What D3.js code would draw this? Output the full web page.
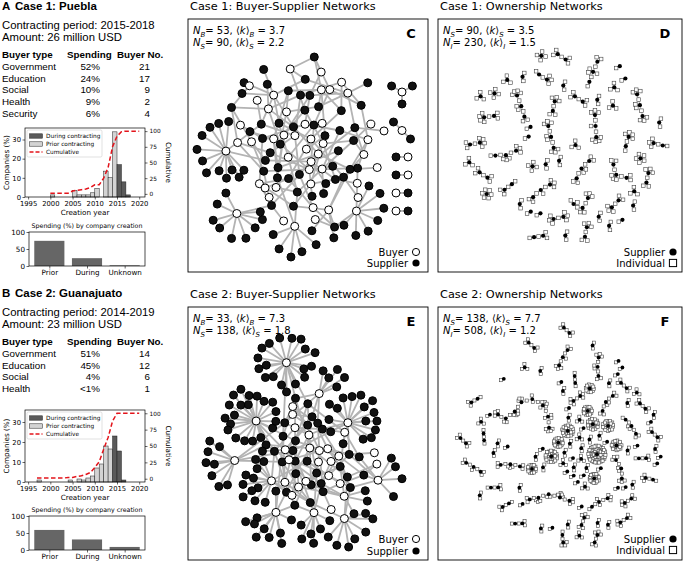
<!DOCTYPE html>
<html><head><meta charset="utf-8">
<script src="https://cdn.jsdelivr.net/npm/d3@7/dist/d3.min.js"></script>
<style>
html,body{margin:0;padding:0;background:#fff;}
svg{display:block;}
</style></head>
<body><svg id="fig" width="685" height="564"></svg>
<script>
// ================= DATA =================
const buyerTypesA = ["Government","Education","Social","Health","Security"];
const spendingA   = ["52%","24%","10%","9%","6%"];
const buyerNoA    = ["21","17","9","2","4"];
const buyerTypesB = ["Government","Education","Social","Health"];
const spendingB   = ["51%","45%","4%","<1%"];
const buyerNoB    = ["14","12","6","1"];
const tableHeader = ["Buyer type","Spending","Buyer No."];

const yearsA = [2000,2005,2006,2007,2008,2009,2010,2012,2013,2014,2015,2016,2017];
const pctA   = [1.1,3.4,1.1,1.1,1.1,2.2,4.5,13.5,10.1,34,16.9,7.9,1.1];
const phaseA = ["P","P","P","P","P","P","P","P","P","P","D","D","D"];
const cumYearsA = [2000,2001,2002,2003,2004,2005,2006,2007,2008,2009,2010,2011,2012,2013,2014,2015,2016,2017,2018,2019,2020];
const cumA      = [1.1,1.1,1.1,1.1,1.1,4.5,5.6,6.7,7.8,10,14.5,14.5,25,42,75,92,99,100,100,100,100];

const yearsB = [1997,2004,2006,2007,2008,2009,2010,2011,2012,2013,2014,2015,2016];
const pctB   = [1,1,1.5,1,2,3,7,9,18,16.5,23,15.5,1];
const phaseB = ["P","P","P","P","P","P","P","P","P","P","D","D","D"];
const cumYearsB = [1997,1998,1999,2000,2001,2002,2003,2004,2005,2006,2007,2008,2009,2010,2011,2012,2013,2014,2015,2016,2017,2018,2019,2020];
const cumB      = [1,1,1,1,1,1,1,2,2,3.5,4.5,6.5,9.5,17,26,45,63,88,100,100,100,100,100,100];

const histXTicks = [1995,2000,2005,2010,2015,2020];
const histYTicks = [0,10,20,30];
const cumTicks   = [0,25,50,75,100];
const legendLabels = ["During contracting","Prior contracting","Cumulative"];

const creationCats = ["Prior","During","Unknown"];
const spendCreationA = [74,23,2];
const spendCreationB = [59,31,9];
const spendTicks = [0,50,100];

const statsC = [["B","53","3.7"],["S","90","2.2"]];
const statsD = [["S","90","3.5"],["I","230","1.5"]];
const statsE = [["B","33","7.3"],["S","138","1.8"]];
const statsF = [["S","138","7.7"],["I","508","1.2"]];

// Case 1 buyer-supplier network, main component: exclusive suppliers per buyer + shared supplier ids
const cFan = [12,9,7,5,3,2,2,2,1,1,1,1,0,0,0,0,0,0,0,0,0,0,0,0,0,0,0,0,0,0,0,0,0,0,0,0,0,0,0,0,0,0,0,0,0,0,0];
const cShared = [[0,1],[2],[3,4],[5,6],[0,7,8,9],[1,2,10,11,12],[3,13,14,15],[4,16,17,18],[5,19,20,21],[6,22,23,24],
  [7,10,25,26],[8,13,27,28],[9,16,29,30],[11,19,31,32],[12,22,33,34],[14,25,29,31],[15,27,33,0],[17,20,30,2],[18,23,32,3],
  [21,26,34,5],[24,28,1],[10,16,22],[13,19,25],[6,9,11],[12,14,17],[20,23,26],[27,29,32],[4,30,33],[7,31,34],[8,18,21],
  [15,24,28],[0],[2],[4],[6],[8],[10],[12],[14],[16],[18],[20],[22],[24],[26],[28],[30]];
const cSmallFan = [3,2,1,1,1,1];
const cSmallStart = [-150,-135,180,180,0,0];

// Case 2 buyer-supplier network
const eFan = [20,18,16,12,10,8,7,6,5,4,3,1,0,0,0,0,0,0,0,0,0,0,0,0,0,0,0,0,0,0,0,0,0];
const eShared = [[0,1,2,3],[4,5,6],[7,8,9],[10,11,12,0],[13,14,4],[15,16,7,1],[17,18,10],[19,20,13,2],[21,22,15,5],
  [23,24,17,8],[25,26,19,11],[27,21,14,3],[0,4,7,10,13,16],[1,5,8,11,14,18],[2,6,9,12,15,20],[3,17,19,22,24],
  [16,18,21,23,25],[20,22,26,27],[6,9,23,25],[12,24,26],[0,5,9,14],[1,6,11,19],[2,8,12,17],[3,10,16,26],[4,15,22,27],
  [7,13,20,25],[18,24],[21,27],[11],[19],[8],[26],[14]];

// Ownership networks: component = individuals per supplier; consecutive suppliers share one individual
const ownD = ["3-2-3","2","3","2-2-2","1","4-1-3","2","3-2","2-3-2","4","2-2","3-2-2","1","4-1","2-1-3","2","2-3","3-3-1","3",
  "3-3","2-2-4","5","1-2","1-3-2","2","2-4","3-2-3","1","3-1","3","2-2","2","3-2","4","1-3","2","2-2","1","4-2","3","2-1",
  "2","3-2","6","1","2","3","2","1","4","2","3","1","2","3"];
const ownF = ["2","60","1","3","25","2","1","22","2","2","20","1","3","18","1","2","16","2","1","15","3","1","14","2","1",
  "12","2","3","12","1","2","10","1",
  "4-3-5-2-3-4-2-3","2","3-4-2-3-2","1",
  "3-2-3","2","2-2-2","1","3-1-2","2","2-3-2","3","1-2-3","1","2-2-1","2","3-2-2","1","2-1-2","2",
  "3-2","2-2","2-1","1-2","3-3","2-3","1-1","2-2","3-1","2-2","1-3","2-1","2-2","3-2","1-2","2-2","2-1","1-1","2-3","2-2",
  "2","1","3","1","2","1","2","3","1","2","1","2","2","1","3","1","2","1","2","1","2","3","1","2","1","2","1","2","1","2"];

// ================= DRAWING =================
const svg = d3.select("#fig");
const SANS = "'Liberation Sans', Arial, sans-serif";
const DJ = "'DejaVu Sans', sans-serif";

function leftPanel(letter, title, period, amount, types, spend, nos, y0){
  const g = svg.append("g").attr("font-family", SANS).attr("fill","#000");
  const t = g.append("text").attr("x",2).attr("y",y0).attr("font-size",11.5).attr("font-weight","bold");
  t.append("tspan").text(letter);
  t.append("tspan").attr("x",15).text(title);
  g.append("text").attr("x",2).attr("y",y0+19).attr("font-size",11.3).text(period);
  g.append("text").attr("x",2).attr("y",y0+31).attr("font-size",11.3).text(amount);
  const hy = y0+48;
  g.append("text").attr("x",2).attr("y",hy).attr("font-size",9.8).attr("font-weight","bold").text(tableHeader[0]);
  g.append("text").attr("x",67).attr("y",hy).attr("font-size",9.8).attr("font-weight","bold").text(tableHeader[1]);
  g.append("text").attr("x",117).attr("y",hy).attr("font-size",9.8).attr("font-weight","bold").text(tableHeader[2]);
  types.forEach((tp,i)=>{
    const y = y0+60+i*11.7;
    g.append("text").attr("x",2).attr("y",y).attr("font-size",9.8).text(tp);
    g.append("text").attr("x",100).attr("y",y).attr("font-size",9.8).attr("text-anchor","end").text(spend[i]);
    g.append("text").attr("x",150).attr("y",y).attr("font-size",9.8).attr("text-anchor","end").text(nos[i]);
  });
}

function styleAxis(sel, size){
  sel.select(".domain").remove();
  sel.attr("font-size",size).attr("font-family",DJ);
  sel.selectAll("text").attr("fill","#000");
  sel.selectAll(".tick line").attr("stroke","#000").attr("stroke-width",0.6);
}

function histogram(top, bottom, years, pct, phase, cumYears, cum){
  const L=25, R=145;
  const g = svg.append("g");
  const x = d3.scaleLinear().domain([1994.3,2021.3]).range([L,R]);
  const yL = d3.scaleLinear().domain([0,36]).range([bottom,top]);
  const yR = d3.scaleLinear().domain([-5,105]).range([bottom,top]);
  const data = years.map((y,i)=>({y, v:pct[i], p:phase[i]}));
  g.selectAll("rect.bar").data(data).join("rect")
    .attr("x",d=>x(d.y)).attr("width",d=>x(d.y+1)-x(d.y))
    .attr("y",d=>yL(d.v)).attr("height",d=>yL(0)-yL(d.v))
    .attr("fill",d=>d.p==="D"?"#5a5a5a":"#d3d3d3").attr("stroke","#222").attr("stroke-width",0.5);
  g.append("path").datum(cumYears.map((y,i)=>[y,cum[i]]))
    .attr("d",d3.line().x(d=>x(d[0])).y(d=>yR(d[1])))
    .attr("fill","none").attr("stroke","#e3141b").attr("stroke-width",1.5).attr("stroke-dasharray","4.5,2.5");
  g.append("rect").attr("x",L).attr("y",top).attr("width",R-L).attr("height",bottom-top)
    .attr("fill","none").attr("stroke","#000").attr("stroke-width",0.7);
  const ax = g.append("g").attr("transform",`translate(0,${bottom})`)
    .call(d3.axisBottom(x).tickValues(histXTicks).tickFormat(d3.format("d")).tickSize(2.5).tickPadding(1.5));
  styleAxis(ax,6.8);
  const al = g.append("g").attr("transform",`translate(${L},0)`)
    .call(d3.axisLeft(yL).tickValues(histYTicks).tickSize(2.5).tickPadding(1.5));
  styleAxis(al,6.8);
  const ar = g.append("g").attr("transform",`translate(${R},0)`)
    .call(d3.axisRight(yR).tickValues(cumTicks).tickSize(2.5).tickPadding(2));
  styleAxis(ar,5.8);
  g.append("text").attr("x",(L+R)/2).attr("y",bottom+18).attr("text-anchor","middle")
    .attr("font-size",7.2).attr("font-family",DJ).text("Creation year");
  g.append("text").attr("transform",`translate(9,${(top+bottom)/2}) rotate(-90)`).attr("text-anchor","middle")
    .attr("font-size",7.2).attr("font-family",DJ).text("Companies (%)");
  g.append("text").attr("transform",`translate(166,${(top+bottom)/2}) rotate(90)`).attr("text-anchor","middle")
    .attr("font-size",7.2).attr("font-family",DJ).text("Cumulative");
  const lg = g.append("g").attr("transform",`translate(27,${top+2})`);
  lg.append("rect").attr("width",75).attr("height",27).attr("rx",1.5).attr("fill","#fff").attr("fill-opacity",0.85)
    .attr("stroke","#ccc").attr("stroke-width",0.6);
  const ly = [6,14,22];
  lg.append("rect").attr("x",2.5).attr("y",ly[0]-2.2).attr("width",13).attr("height",4.4).attr("fill","#5a5a5a").attr("stroke","#222").attr("stroke-width",0.5);
  lg.append("rect").attr("x",2.5).attr("y",ly[1]-2.2).attr("width",13).attr("height",4.4).attr("fill","#d3d3d3").attr("stroke","#222").attr("stroke-width",0.5);
  lg.append("line").attr("x1",2.5).attr("x2",15.5).attr("y1",ly[2]).attr("y2",ly[2]).attr("stroke","#e3141b").attr("stroke-width",1.5).attr("stroke-dasharray","4,2");
  legendLabels.forEach((t,i)=>lg.append("text").attr("x",19).attr("y",ly[i]+2).attr("font-size",5.8).attr("font-family",DJ).text(t));
}

function spendBars(top, bottom, vals){
  const L=29, R=145;
  const g = svg.append("g");
  const x = d3.scaleLinear().domain([-0.54,2.54]).range([L,R]);
  const y = d3.scaleLinear().domain([0,100]).range([bottom,top]);
  g.selectAll("rect.b").data(vals).join("rect")
    .attr("x",(d,i)=>x(i-0.4)).attr("width",(d,i)=>x(i+0.4)-x(i-0.4))
    .attr("y",d=>y(d)).attr("height",d=>y(0)-y(d)).attr("fill","#666");
  g.append("rect").attr("x",L).attr("y",top).attr("width",R-L).attr("height",bottom-top)
    .attr("fill","none").attr("stroke","#000").attr("stroke-width",0.7);
  const ax = g.append("g").attr("transform",`translate(0,${bottom})`)
    .call(d3.axisBottom(x).tickValues([0,1,2]).tickFormat(i=>creationCats[i]).tickSize(2.5).tickPadding(1.5));
  styleAxis(ax,7.2);
  const ay = g.append("g").attr("transform",`translate(${L},0)`)
    .call(d3.axisLeft(y).tickValues(spendTicks).tickSize(2.5).tickPadding(1.5));
  styleAxis(ay,7.2);
  g.append("text").attr("x",(L+R)/2).attr("y",top-4).attr("text-anchor","middle")
    .attr("font-size",6.3).attr("font-family",DJ).text("Spending (%) by company creation");
}

leftPanel("A","Case 1: Puebla","Contracting period: 2015-2018","Amount: 26 million USD",buyerTypesA,spendingA,buyerNoA,10);
histogram(128,197,yearsA,pctA,phaseA,cumYearsA,cumA);
spendBars(232,266,spendCreationA);
leftPanel("B","Case 2: Guanajuato","Contracting period: 2014-2019","Amount: 23 million USD",buyerTypesB,spendingB,buyerNoB,297);
histogram(410,482,yearsB,pctB,phaseB,cumYearsB,cumB);
spendBars(516,550,spendCreationB);

// ---------- network panels ----------
function frame(x0,y0,x1,y1,title,letter,stats){
  svg.append("text").attr("x",x0+2).attr("y",y0-9).attr("font-size",11.3).attr("font-family",DJ).text(title);
  svg.append("rect").attr("x",x0).attr("y",y0).attr("width",x1-x0).attr("height",y1-y0)
    .attr("fill","none").attr("stroke","#000").attr("stroke-width",0.9);
  svg.append("text").attr("x",x1-17).attr("y",y0+19).attr("text-anchor","middle").attr("font-size",13)
    .attr("font-weight","bold").attr("font-family",DJ).text(letter);
  stats.forEach((s,i)=>{
    const t = svg.append("text").attr("x",x0+5).attr("y",y0+15+i*12).attr("font-size",10).attr("font-family",DJ);
    const parts = [{t:"N",it:1},{t:s[0],it:1,sb:1},{t:"= "+s[1]+", ⟨"},{t:"k",it:1},{t:"⟩"},{t:s[0],it:1,sb:1},{t:" = "+s[2]}];
    let shifted=false;
    parts.forEach(p=>{
      const ts = t.append("tspan").text(p.t);
      if(p.it) ts.attr("font-style","italic");
      if(p.sb){ ts.attr("font-size",7).attr("dy",2.5); shifted=true; }
      else if(shifted){ ts.attr("dy",-2.5); shifted=false; }
    });
  });
}

function legendRows(xr, ys, labels, kinds){
  labels.forEach((lab,i)=>{
    svg.append("text").attr("x",xr).attr("y",ys[i]+3.5).attr("text-anchor","end").attr("font-size",10)
      .attr("font-family",DJ).text(lab);
    const cx = xr+8;
    if(kinds[i]==="open") svg.append("circle").attr("cx",cx).attr("cy",ys[i]).attr("r",3.6).attr("fill","#fff").attr("stroke","#000").attr("stroke-width",1);
    else if(kinds[i]==="fill") svg.append("circle").attr("cx",cx).attr("cy",ys[i]).attr("r",3.6).attr("fill","#000");
    else svg.append("rect").attr("x",cx-3.6).attr("y",ys[i]-3.6).attr("width",7.2).attr("height",7.2).attr("fill","#fff").attr("stroke","#000").attr("stroke-width",1);
  });
}

function bipartite(fan, shared){
  const nodes=[], links=[];
  const nSh = d3.max(shared.flat())+1;
  d3.range(nSh).forEach(i=>nodes.push({id:"s"+i,type:"S"}));
  let f=0;
  fan.forEach((nf,b)=>{
    const bid="b"+b; nodes.push({id:bid,type:"B"});
    for(let k=0;k<nf;k++){ const sid="f"+(f++); nodes.push({id:sid,type:"S"}); links.push({source:bid,target:sid}); }
    shared[b].forEach(si=>links.push({source:bid,target:"s"+si}));
  });
  return {nodes,links};
}

function runSim(nodes, links, dist, charge, dmax, grav, ticks){
  const sim = d3.forceSimulation(nodes)
    .force("link", d3.forceLink(links).id(d=>d.id).distance(dist))
    .force("charge", d3.forceManyBody().strength(charge).distanceMax(dmax))
    .force("x", d3.forceX(0).strength(grav))
    .force("y", d3.forceY(0).strength(grav))
    .alphaDecay(1-Math.pow(0.001,1/ticks))
    .stop();
  sim.tick(ticks);
}

function drawBip(net, box, r){
  const xe = d3.extent(net.nodes,d=>d.x), ye = d3.extent(net.nodes,d=>d.y);
  const sx = d3.scaleLinear().domain(xe).range([box[0],box[2]]);
  const sy = d3.scaleLinear().domain(ye).range([box[1],box[3]]);
  const g = svg.append("g");
  g.selectAll("line").data(net.links).join("line")
    .attr("x1",d=>sx(d.source.x)).attr("y1",d=>sy(d.source.y)).attr("x2",d=>sx(d.target.x)).attr("y2",d=>sy(d.target.y))
    .attr("stroke","#b3b3b3").attr("stroke-width",1.8);
  g.selectAll("circle").data(net.nodes).join("circle")
    .attr("cx",d=>sx(d.x)).attr("cy",d=>sy(d.y)).attr("r",r)
    .attr("fill",d=>d.type==="B"?"#fff":"#111").attr("stroke","#000").attr("stroke-width",1);
}

// Panel C
frame(188,19,428,272,"Case 1: Buyer-Supplier Networks","C",statsC);
const netC = bipartite(cFan,cShared);
runSim(netC.nodes,netC.links,30,-70,70,0.07,500);
drawBip(netC,[197,57,384,257],4);
(function(){
  const g = svg.append("g");
  let top = 82; const cx = 402, arm = 12, r=4;
  cSmallFan.forEach((n,ci)=>{
    const a0 = cSmallStart[ci]*Math.PI/180;
    const pts = d3.range(n).map(k=>{const a=a0+k*2*Math.PI/n; return [Math.cos(a)*arm, Math.sin(a)*arm];});
    const all = pts.concat([[0,0]]);
    const xe = d3.extent(all,p=>p[0]), ye = d3.extent(all,p=>p[1]);
    const ox = cx-(xe[0]+xe[1])/2, oy = top+r-ye[0];
    pts.forEach(p=>g.append("line").attr("x1",ox).attr("y1",oy).attr("x2",ox+p[0]).attr("y2",oy+p[1]).attr("stroke","#b3b3b3").attr("stroke-width",1.8));
    pts.forEach(p=>g.append("circle").attr("cx",ox+p[0]).attr("cy",oy+p[1]).attr("r",r).attr("fill","#111").attr("stroke","#000"));
    g.append("circle").attr("cx",ox).attr("cy",oy).attr("r",r).attr("fill","#fff").attr("stroke","#000");
    top += (ye[1]-ye[0]) + 2*r + 10;
  });
})();
legendRows(408,[252,263],["Buyer","Supplier"],["open","fill"]);

// Panel E
frame(188,307,428,560,"Case 2: Buyer-Supplier Networks","E",statsE);
const netE = bipartite(eFan,eShared);
runSim(netE.nodes,netE.links,22,-45,55,0.07,500);
drawBip(netE,[206,338,402,547],4);
legendRows(408,[539,551],["Buyer","Supplier"],["open","fill"]);

// Ownership networks: each component laid out alone; components spread evenly over a disc
// (d3-force's sunflower start, widened to the panel) and relaxed with a collision force
function ownership(comps, dist, charge, box){
  const groups = comps.map((str,ci)=>{
    const nodes=[], links=[];
    const counts = str.split("-").map(Number);
    const sups = counts.map((c,k)=>{const s={id:`s${k}`,type:"S"}; nodes.push(s); return s;});
    counts.forEach((c,k)=>{ for(let j=0;j<c;j++){ const p={id:`s${k}p${j}`,type:"I"}; nodes.push(p); links.push({source:sups[k].id,target:p.id}); } });
    for(let k=0;k<sups.length-1;k++){ const p={id:`x${k}`,type:"I"}; nodes.push(p);
      links.push({source:sups[k].id,target:p.id}); links.push({source:sups[k+1].id,target:p.id}); }
    const sim = d3.forceSimulation(nodes)
      .force("link", d3.forceLink(links).id(d=>d.id).distance(dist).strength(1))
      .force("charge", d3.forceManyBody().strength(charge).distanceMax(40))
      .force("center", d3.forceCenter(0,0)).stop();
    sim.tick(300);
    const mx = d3.mean(nodes,d=>d.x), my = d3.mean(nodes,d=>d.y);
    nodes.forEach(d=>{d.lx=d.x-mx; d.ly=d.y-my;});
    const r0 = d3.max(nodes,d=>Math.hypot(d.lx,d.ly)) + 2;
    return {nodes, links, r0, r:r0+1.5};
  });
  const R = Math.min(box[2]-box[0], box[3]-box[1])/2 - 10;
  const rel = d3.forceSimulation(groups).stop();
  const k = R/(10*Math.sqrt(groups.length-0.5));
  groups.forEach(g=>{g.x*=k; g.y*=k; g.vx=0; g.vy=0;});
  rel.force("collide", d3.forceCollide(d=>d.r).iterations(3)).alpha(0.4);
  rel.tick(100);
  return groups;
}
function drawOwn(groups, box, sq, rs, ew){
  const x0 = d3.min(groups,d=>d.x-d.r0), x1 = d3.max(groups,d=>d.x+d.r0);
  const y0 = d3.min(groups,d=>d.y-d.r0), y1 = d3.max(groups,d=>d.y+d.r0);
  const bw = box[2]-box[0], bh = box[3]-box[1];
  const s = Math.min(bw/(x1-x0), bh/(y1-y0));
  const inner = Math.min(s,1);
  const mx = (x0+x1)/2, my = (y0+y1)/2;
  const sx = d3.scaleLinear().domain([mx-bw/2/s, mx+bw/2/s]).range([box[0],box[2]]);
  const sy = d3.scaleLinear().domain([my-bh/2/s, my+bh/2/s]).range([box[1],box[3]]);
  const g = svg.append("g");
  const allLinks=[], allNodes=[];
  groups.forEach(gr=>{
    gr.nodes.forEach(d=>{d.px=sx(gr.x)+d.lx*inner; d.py=sy(gr.y)+d.ly*inner; allNodes.push(d);});
    gr.links.forEach(l=>allLinks.push(l));
  });
  g.selectAll("line").data(allLinks).join("line")
    .attr("x1",d=>d.source.px).attr("y1",d=>d.source.py).attr("x2",d=>d.target.px).attr("y2",d=>d.target.py)
    .attr("stroke","#8a8a8a").attr("stroke-width",ew);
  g.selectAll("rect").data(allNodes.filter(d=>d.type==="I")).join("rect")
    .attr("x",d=>d.px-sq/2).attr("y",d=>d.py-sq/2).attr("width",sq).attr("height",sq)
    .attr("fill","#fff").attr("stroke","#444").attr("stroke-width",0.6);
  g.selectAll("circle").data(allNodes.filter(d=>d.type==="S")).join("circle")
    .attr("cx",d=>d.px).attr("cy",d=>d.py).attr("r",rs).attr("fill","#000");
}

const boxD = [460,46,672,248], boxF = [448,322,670,550];
frame(438,19,682,272,"Case 1: Ownership Networks","D",statsD);
drawOwn(ownership(ownD,4.5,-1.5,boxD),boxD,3.6,2.1,0.6);
legendRows(665,[252,263],["Supplier","Individual"],["fill","square"]);

frame(438,307,682,560,"Case 2: Ownership Networks","F",statsF);
drawOwn(ownership(ownF,3.5,-2.5,boxF),boxF,3.1,1.9,0.5);
legendRows(665,[539,550],["Supplier","Individual"],["fill","square"]);
</script></body></html>
